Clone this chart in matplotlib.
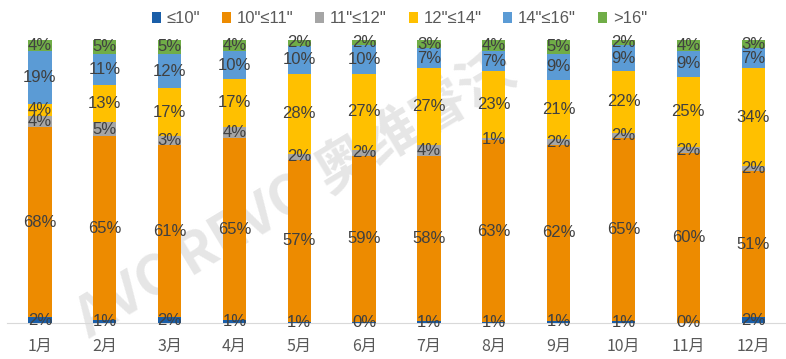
import numpy as np
import matplotlib.pyplot as plt

plt.rcParams['font.family'] = ['Noto Sans CJK SC', 'DejaVu Sans']

months = ['1月', '2月', '3月', '4月', '5月', '6月', '7月', '8月', '9月', '10月', '11月', '12月']
series = ['≤10"', '10"≤11"', '11"≤12"', '12"≤14"', '14"≤16"', '>16"']
colors = ['#1A5EA8', '#ED8B00', '#A5A5A5', '#FFC000', '#5B9BD5', '#70AD47']

le10 = [2, 1, 2, 1, 1, 0, 1, 1, 1, 1, 0, 2]
s10_11 = [68, 65, 61, 65, 57, 59, 58, 63, 62, 65, 60, 51]
s11_12 = [4, 5, 3, 4, 2, 2, 4, 1, 2, 2, 2, 2]
s12_14 = [4, 13, 17, 17, 28, 27, 27, 23, 21, 22, 25, 34]
s14_16 = [19, 11, 12, 10, 10, 10, 7, 7, 9, 9, 9, 7]
gt16 = [4, 5, 5, 4, 2, 2, 3, 4, 5, 2, 4, 3]
# tiny shares shown as 0% / 1% in the labels, drawn as thin slivers
le10_draw = [2, 1, 2, 1, 0.4, 0.3, 0.6, 0.5, 0.8, 0.7, 0.2, 2]

data = np.array([le10_draw, s10_11, s11_12, s12_14, s14_16, gt16], dtype=float)
labels = np.array([le10, s10_11, s11_12, s12_14, s14_16, gt16])
data = data / data.sum(axis=0) * 100

fig = plt.figure(figsize=(7.86, 3.59), dpi=100)
ax = fig.add_axes([0.0095, 0.1, 0.99, 0.789])

x = np.arange(len(months))
# watermark
ax.text(0.37, 0.45, 'AVC REVO 奥维睿沃', transform=ax.transAxes, fontsize=40,
        fontweight='bold', color='#E6E6E6', rotation=31, ha='center', va='center',
        zorder=0, clip_on=False)

bottom = np.zeros(len(months))
for i, name in enumerate(series):
    ax.bar(x, data[i], 0.36, bottom=bottom, color=colors[i], label=name, zorder=2)
    for j in range(len(months)):
        ax.text(x[j], bottom[j] + data[i][j] / 2, f'{labels[i][j]}%', ha='center', va='center',
                fontsize=12, color='#404040', family=['Liberation Sans', 'DejaVu Sans'], zorder=3)
    bottom += data[i]

ax.set_xlim(-0.5, len(months) - 0.5)
ax.set_ylim(0, 100)
ax.set_xticks(x)
ax.set_xticklabels(months, fontsize=11.5, color='#595959')
ax.tick_params(axis='x', length=0, pad=11)
ax.set_yticks([])
for s in ['top', 'right', 'left']:
    ax.spines[s].set_visible(False)
ax.spines['bottom'].set_color('#D9D9D9')
ax.spines['bottom'].set_zorder(1)

fig.legend(loc='upper center', bbox_to_anchor=(0.508, 1.01), ncol=6, frameon=False,
           handlelength=0.55, handleheight=0.55, handletextpad=0.35,
           columnspacing=1.3, labelcolor='#595959',
           prop={'family': ['Liberation Sans', 'DejaVu Sans'], 'size': 12})

fig.savefig('out.png', dpi=100)
